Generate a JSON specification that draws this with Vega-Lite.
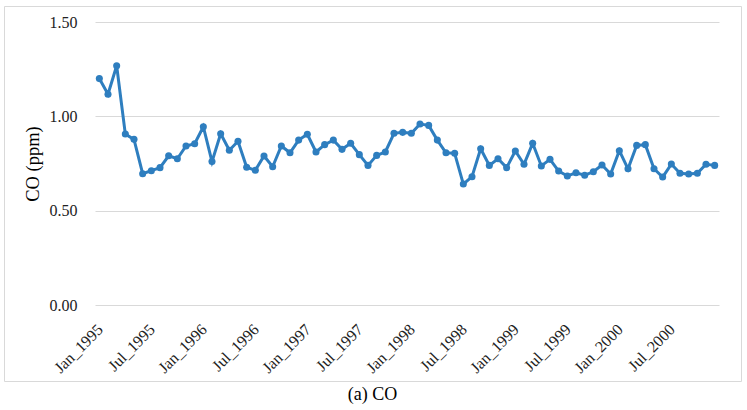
{
  "$schema": "https://vega.github.io/schema/vega-lite/v6.json",
  "width": 737,
  "height": 375,
  "autosize": {"type": "none"},
  "padding": {"left": 4, "top": 6, "right": 6, "bottom": 29},
  "background": "white",
  "config": {
    "view": {"stroke": "#d9d9d9", "strokeWidth": 1},
    "font": "Liberation Serif"
  },
  "title": {
    "text": "(a) CO",
    "orient": "bottom",
    "anchor": "middle",
    "frame": "group",
    "font": "Liberation Serif",
    "fontSize": 18,
    "fontWeight": "normal",
    "color": "#000000",
    "offset": 5
  },
  "data": {
    "values": [
      {"month": "Jan_1995", "co": 1.200}, {"month": "Feb_1995", "co": 1.117}, {"month": "Mar_1995", "co": 1.268}, {"month": "Apr_1995", "co": 0.906},
      {"month": "May_1995", "co": 0.878}, {"month": "Jun_1995", "co": 0.696}, {"month": "Jul_1995", "co": 0.712}, {"month": "Aug_1995", "co": 0.728},
      {"month": "Sep_1995", "co": 0.791}, {"month": "Oct_1995", "co": 0.775}, {"month": "Nov_1995", "co": 0.843}, {"month": "Dec_1995", "co": 0.855},
      {"month": "Jan_1996", "co": 0.945}, {"month": "Feb_1996", "co": 0.760}, {"month": "Mar_1996", "co": 0.908}, {"month": "Apr_1996", "co": 0.820},
      {"month": "May_1996", "co": 0.868}, {"month": "Jun_1996", "co": 0.730}, {"month": "Jul_1996", "co": 0.714}, {"month": "Aug_1996", "co": 0.790},
      {"month": "Sep_1996", "co": 0.733}, {"month": "Oct_1996", "co": 0.843}, {"month": "Nov_1996", "co": 0.807}, {"month": "Dec_1996", "co": 0.874},
      {"month": "Jan_1997", "co": 0.905}, {"month": "Feb_1997", "co": 0.811}, {"month": "Mar_1997", "co": 0.850}, {"month": "Apr_1997", "co": 0.874},
      {"month": "May_1997", "co": 0.825}, {"month": "Jun_1997", "co": 0.857}, {"month": "Jul_1997", "co": 0.797}, {"month": "Aug_1997", "co": 0.740},
      {"month": "Sep_1997", "co": 0.793}, {"month": "Oct_1997", "co": 0.811}, {"month": "Nov_1997", "co": 0.910}, {"month": "Dec_1997", "co": 0.915},
      {"month": "Jan_1998", "co": 0.910}, {"month": "Feb_1998", "co": 0.959}, {"month": "Mar_1998", "co": 0.952}, {"month": "Apr_1998", "co": 0.874},
      {"month": "May_1998", "co": 0.807}, {"month": "Jun_1998", "co": 0.804}, {"month": "Jul_1998", "co": 0.641}, {"month": "Aug_1998", "co": 0.680},
      {"month": "Sep_1998", "co": 0.828}, {"month": "Oct_1998", "co": 0.740}, {"month": "Nov_1998", "co": 0.775}, {"month": "Dec_1998", "co": 0.728},
      {"month": "Jan_1999", "co": 0.816}, {"month": "Feb_1999", "co": 0.746}, {"month": "Mar_1999", "co": 0.857}, {"month": "Apr_1999", "co": 0.737},
      {"month": "May_1999", "co": 0.772}, {"month": "Jun_1999", "co": 0.710}, {"month": "Jul_1999", "co": 0.684}, {"month": "Aug_1999", "co": 0.701},
      {"month": "Sep_1999", "co": 0.688}, {"month": "Oct_1999", "co": 0.706}, {"month": "Nov_1999", "co": 0.742}, {"month": "Dec_1999", "co": 0.694},
      {"month": "Jan_2000", "co": 0.818}, {"month": "Feb_2000", "co": 0.722}, {"month": "Mar_2000", "co": 0.846}, {"month": "Apr_2000", "co": 0.850},
      {"month": "May_2000", "co": 0.722}, {"month": "Jun_2000", "co": 0.678}, {"month": "Jul_2000", "co": 0.747}, {"month": "Aug_2000", "co": 0.698},
      {"month": "Sep_2000", "co": 0.694}, {"month": "Oct_2000", "co": 0.698}, {"month": "Nov_2000", "co": 0.746}, {"month": "Dec_2000", "co": 0.740}
    ]
  },
  "mark": {
    "type": "line",
    "color": "#2e7ebf",
    "strokeWidth": 3,
    "point": {"filled": true, "size": 50, "color": "#2e7ebf", "opacity": 1}
  },
  "encoding": {
    "x": {
      "field": "month",
      "type": "ordinal",
      "sort": null,
      "scale": {"type": "point", "range": [91, 715], "padding": 0.5},
      "axis": {
        "values": ["Jan_1995", "Jul_1995", "Jan_1996", "Jul_1996", "Jan_1997", "Jul_1997", "Jan_1998", "Jul_1998", "Jan_1999", "Jul_1999", "Jan_2000", "Jul_2000"],
        "title": null,
        "labelAngle": -45,
        "labelFont": "Liberation Serif",
        "labelFontSize": 16,
        "labelColor": "#222222",
        "labelPadding": 16,
        "labelOffset": -5,
        "ticks": false,
        "tickSize": 0,
        "domain": false,
        "grid": false,
        "offset": -76
      }
    },
    "y": {
      "field": "co",
      "type": "quantitative",
      "scale": {"domain": [0, 1.5], "range": [299, 16], "nice": false, "zero": true},
      "axis": {
        "values": [0, 0.5, 1, 1.5],
        "format": ".2f",
        "title": "CO (ppm)",
        "titleFont": "Liberation Serif",
        "titleFontSize": 18.5,
        "titleFontWeight": "normal",
        "titleColor": "#000000",
        "titlePadding": 7,
        "labelFont": "Liberation Serif",
        "labelFontSize": 16,
        "labelColor": "#222222",
        "labelPadding": 0,
        "ticks": false,
        "tickSize": 0,
        "domain": false,
        "grid": true,
        "gridColor": "#d9d9d9",
        "gridWidth": 1,
        "offset": -73
      }
    }
  }
}
